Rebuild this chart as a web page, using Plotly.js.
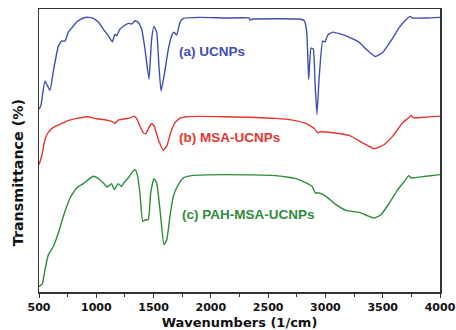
<!DOCTYPE html>
<html>
<head>
<meta charset="utf-8">
<script src="https://cdn.plot.ly/plotly-3.0.1.min.js"></script>
<style>html,body{margin:0;padding:0;background:#fff;}#chart{width:456px;height:330px;}</style>
</head>
<body>
<div id="chart"></div>
<script>
// Wavenumbers (1/cm) and relative transmittance (arbitrary offset units)
const wnA = [500,517,552,596,625,669,698,727,756,785,829,887,930,974,1018,1061,1105,1140,1163,1178,1207,1242,1280,1309,1338,1367,1396,1425,1460,1483,1503,1527,1547,1565,1591,1629,1658,1678,1702,1731,1760,1905,2132,2336,2340,2365,2772,2816,2837,2854,2874,2894,2909,2926,2946,2976,2996,3020,3063,3180,3296,3354,3433,3500,3572,3645,3703,3738,3762,3878,4000];
const tA = [182,186,210,201,220,245,250,250,259,263,269,273,273.7,272.7,269,262,255.3,249.3,257,255.3,262,265.3,267.7,267,270.3,268.7,262,242,212,252,264.7,259,225,200.3,215,242,255.3,259,256,269,272.7,273.7,273,273,271,272,272,270.3,259,212,243,242,209,177,215,250.3,249,256,259,255.3,248.7,242,234.7,238.7,250.3,263.7,271.3,274.7,273,273,273.7];

const wnB = [500,523,552,581,625,683,742,829,916,1003,1091,1149,1163,1192,1251,1294,1329,1353,1381,1410,1431,1460,1483,1506,1541,1585,1615,1649,1687,1731,1789,2132,2568,2714,2830,2903,2932,2961,3063,3208,3325,3427,3514,3587,3674,3727,3750,3767,3878,4000];
const tB = [127,135.3,152,159,164,167,170.3,173,174.7,172.7,171.3,169.3,168,171.3,172.7,173.3,175.3,172.7,165.3,158.7,157.7,163.7,168,165.3,152,141.3,145.3,158.7,168.7,173.3,174.7,174.7,173,171.3,168,163,158.7,159.7,158.7,156,148.7,142.7,147,155.3,168.7,173.7,176,173.7,174.3,175.3];

const wnC = [500,529,552,581,625,669,712,771,829,887,930,974,1018,1061,1096,1134,1157,1192,1221,1251,1280,1309,1338,1358,1381,1405,1431,1454,1475,1503,1527,1556,1591,1615,1643,1672,1716,1760,1833,2132,2568,2743,2845,2883,2912,2946,3005,3092,3180,3296,3369,3427,3485,3558,3631,3689,3727,3747,3878,4000];
const tC = [5.3,8,22,37,45.3,58.7,75.3,93.7,103.7,108,112,115.3,113,108.7,104.7,108,102,108,105.3,110.3,113.7,118.7,122,117,98.7,70.3,72,72,98.7,113,108.7,82,47,52,75.3,95.3,107,113.7,116,117,116,113,108,105.3,98.7,98.7,95.3,87,81.3,79.3,76,73.7,77,88.7,102,110.3,116,113.7,115.3,117];

const seriesNames = ["(a) UCNPs", "(b) MSA-UCNPs", "(c) PAH-MSA-UCNPs"];
const xTickVals = [500,1000,1500,2000,2500,3000,3500,4000];
const colors = ["#3e4fb4", "#e5352c", "#2e8b3c"];

const mk = (x, y, c, n) => ({x: x, y: y, type: "scatter", mode: "lines", name: n,
  line: {color: c, width: 1.4, shape: "spline", smoothing: 0.4}, hoverinfo: "skip"});

const data = [
  mk(wnA, tA, colors[0], seriesNames[0]),
  mk(wnB, tB, colors[1], seriesNames[1]),
  mk(wnC, tC, colors[2], seriesNames[2])
];

const labelFont = (c) => ({family: "Liberation Sans, Arial, sans-serif", size: 13.5, color: c, weight: "bold"});

const layout = {
  width: 456, height: 330,
  margin: {l: 39, r: 16, t: 9, b: 38},
  paper_bgcolor: "#fff", plot_bgcolor: "#fff",
  showlegend: false,
  xaxis: {
    range: [500, 4000], tickvals: xTickVals, ticktext: xTickVals.map(String),
    ticks: "outside", ticklen: 4, tickwidth: 1, tickcolor: "#333",
    minor: {dtick: 250, ticks: "outside", ticklen: 3, tickcolor: "#333", tick0: 500},
    showline: true, mirror: true, linecolor: "#333", linewidth: 1.5,
    showgrid: false, zeroline: false,
    tickfont: {family: "DejaVu Sans", size: 11, color: "#111", weight: "bold"},
    title: {text: "Wavenumbers (1/cm)", standoff: 6, font: {family: "DejaVu Sans", size: 13, color: "#111", weight: "bold"}}
  },
  yaxis: {
    range: [0, 282], showticklabels: false, ticks: "",
    showline: true, mirror: true, linecolor: "#333", linewidth: 1.5,
    showgrid: false, zeroline: false
  },
  annotations: [
    {text: "Transmittance (%)", xref: "paper", yref: "paper", x: -0.052, y: 0.42, xanchor: "center", yanchor: "middle", textangle: -90, showarrow: false,
     font: {family: "DejaVu Sans", size: 14.3, color: "#111", weight: "bold"}},
    {text: seriesNames[0], xref: "paper", yref: "y", x: 0.343, y: 240, xanchor: "left", yanchor: "middle", showarrow: false, font: labelFont(colors[0])},
    {text: seriesNames[1], xref: "paper", yref: "y", x: 0.343, y: 154, xanchor: "left", yanchor: "middle", showarrow: false, font: labelFont(colors[1])},
    {text: seriesNames[2], xref: "paper", yref: "y", x: 0.351, y: 77, xanchor: "left", yanchor: "middle", showarrow: false, font: labelFont(colors[2])}
  ]
};

Plotly.newPlot("chart", data, layout, {staticPlot: true, displayModeBar: false});
</script>
</body>
</html>
